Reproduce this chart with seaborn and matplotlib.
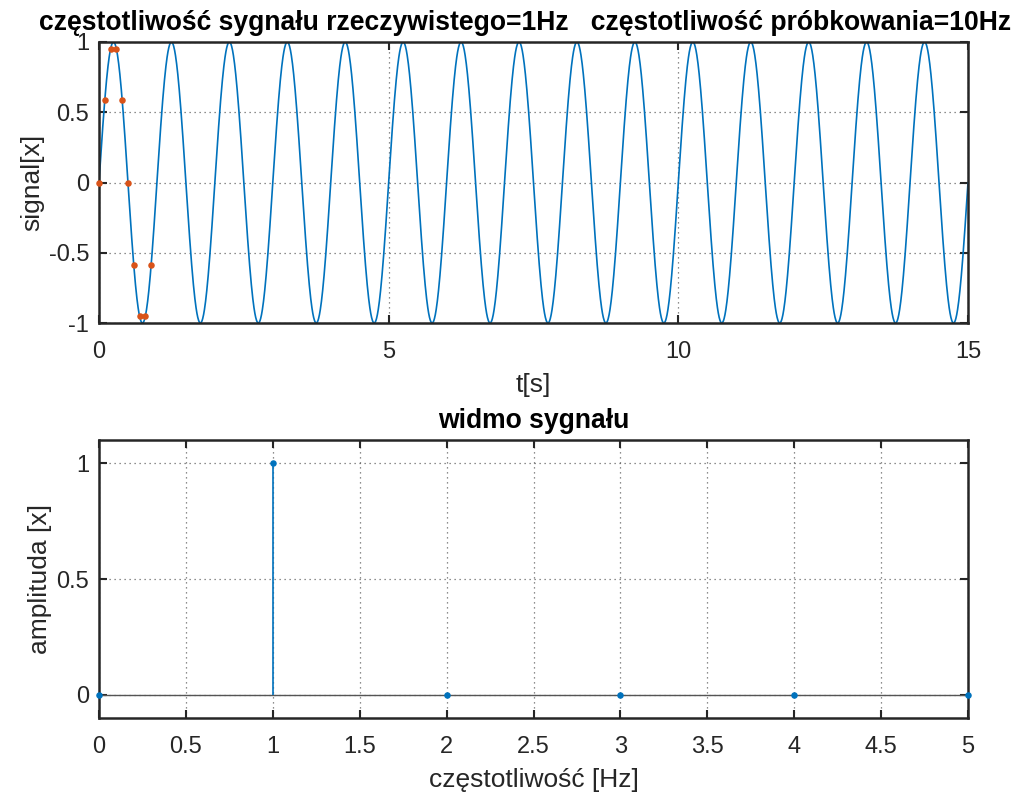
import numpy as np
import pandas as pd
import matplotlib
matplotlib.use("Agg")
import matplotlib.pyplot as plt
import seaborn as sns

# ---- data ----
signal_freq = 1.0        # Hz (from title)
sampling_freq = 10.0     # Hz (from title)
t_end = 15.0
sample_t = [0.0, 0.1, 0.2, 0.3, 0.4, 0.5, 0.6, 0.7, 0.8, 0.9]
sample_x = [0.0, 0.59, 0.95, 0.95, 0.59, 0.0, -0.59, -0.95, -0.95, -0.59]
spec_freq = [0, 1, 2, 3, 4, 5]
spec_amp = [0, 1, 0, 0, 0, 0]
top_xticks = [0, 5, 10, 15]
top_yticks = [-1, -0.5, 0, 0.5, 1]
top_yticklabels = ["-1", "-0.5", "0", "0.5", "1"]
bot_xticks = [0, 0.5, 1, 1.5, 2, 2.5, 3, 3.5, 4, 4.5, 5]
bot_xticklabels = ["0", "0.5", "1", "1.5", "2", "2.5", "3", "3.5", "4", "4.5", "5"]
bot_yticks = [0, 0.5, 1]
bot_yticklabels = ["0", "0.5", "1"]

title_top = "częstotliwość sygnału rzeczywistego=1Hz   częstotliwość próbkowania=10Hz"
title_bot = "widmo sygnału"

blue = "#0072BD"
red = "#D95319"

sns.set_theme(style="white")
plt.rcParams["font.family"] = ["Liberation Sans", "DejaVu Sans"]

t = np.linspace(0, t_end, 3001)
df_sig = pd.DataFrame({"t": t, "x": np.sin(2 * np.pi * signal_freq * t)})
df_samp = pd.DataFrame({"t": sample_t, "x": sample_x})
df_spec = pd.DataFrame({"f": spec_freq, "a": spec_amp})

fig = plt.figure(figsize=(10.34, 7.97), dpi=100)
ax1 = fig.add_axes([99 / 1034, 1 - 323 / 797, 869 / 1034, 281 / 797])
ax2 = fig.add_axes([99 / 1034, 1 - 718 / 797, 869 / 1034, 278 / 797])

tick_fs = 17
label_fs = 19
title_fs = 19.1
dark = "#262626"

def style(ax):
    for s in ax.spines.values():
        s.set_linewidth(1.8)
        s.set_color(dark)
    ax.tick_params(direction="in", length=6, width=1.5, color=dark,
                   labelsize=tick_fs, labelcolor=dark,
                   top=True, right=True, bottom=True, left=True)
    ax.tick_params(axis="x", pad=13)
    ax.tick_params(axis="y", pad=7)
    ax.grid(True, linestyle=(0, (1, 3)), color="#444444", linewidth=0.9, alpha=0.8)
    ax.set_axisbelow(True)

# top plot
sns.lineplot(data=df_sig, x="t", y="x", ax=ax1, color=blue, linewidth=1.2, sort=False)
sns.scatterplot(data=df_samp, x="t", y="x", ax=ax1, color=red, s=22, edgecolor=red,
                linewidth=0, zorder=3, clip_on=False)
ax1.set_xlim(0, 15)
ax1.set_ylim(-1, 1)
ax1.set_xticks(top_xticks)
ax1.set_xticklabels([str(v) for v in top_xticks])
ax1.set_yticks(top_yticks)
ax1.set_yticklabels(top_yticklabels)
ax1.set_xlabel("t[s]", fontsize=label_fs, color=dark, labelpad=7)
ax1.set_ylabel("signal[x]", fontsize=label_fs, color=dark, labelpad=3)
ax1.set_title(title_top, fontsize=title_fs, fontweight="bold", color="black",
              pad=9, x=0.49)
style(ax1)

# bottom plot (stem)
ax2.axhline(0, color="#555555", linewidth=1.0, zorder=2)
ax2.vlines(df_spec["f"], 0, df_spec["a"], color=blue, linewidth=1.2, zorder=3)
sns.scatterplot(data=df_spec, x="f", y="a", ax=ax2, color=blue, s=22, edgecolor=blue,
                linewidth=0, zorder=4, clip_on=False)
ax2.set_xlim(0, 5)
ax2.set_ylim(-0.1, 1.1)
ax2.set_xticks(bot_xticks)
ax2.set_xticklabels(bot_xticklabels)
ax2.set_yticks(bot_yticks)
ax2.set_yticklabels(bot_yticklabels)
ax2.set_xlabel("częstotliwość [Hz]", fontsize=label_fs, color=dark, labelpad=7)
ax2.set_ylabel("amplituda [x]", fontsize=label_fs, color=dark, labelpad=3)
ax2.set_title(title_bot, fontsize=title_fs, fontweight="bold", color="black", pad=9)
style(ax2)

fig.savefig("out.png", dpi=100, facecolor="white")
